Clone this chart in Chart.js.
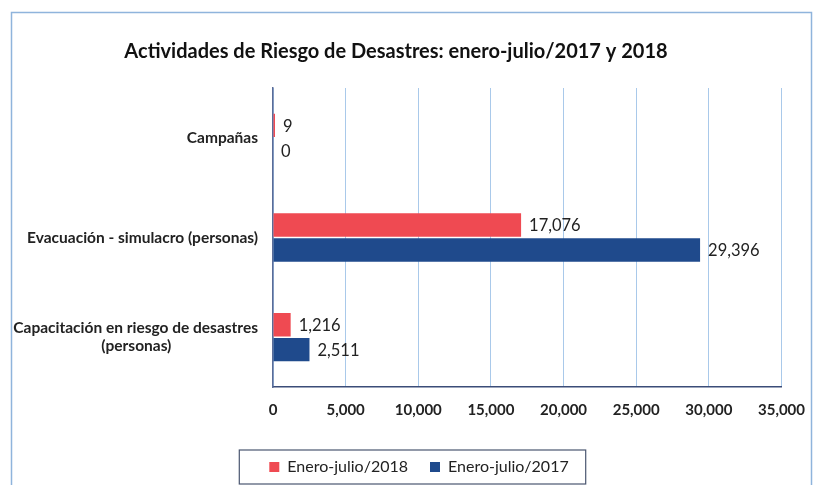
<!DOCTYPE html>
<html>
<head>
<meta charset="utf-8">
<script src="https://cdn.jsdelivr.net/npm/chart.js@4"></script>
<style>
  body { margin: 0; background: #fff; }
  #wrap { width: 819px; height: 485px; }
</style>
</head>
<body>
<div id="wrap"><canvas id="riesgo-canvas" width="819" height="485"></canvas></div>
<script>
var categories = ["Campañas", "Evacuación - simulacro (personas)", "Capacitación en riesgo de desastres|(personas)"];
var values2018 = [9, 17076, 1216];
var values2017 = [0, 29396, 2511];
var xTicks = [0, 5000, 10000, 15000, 20000, 25000, 30000, 35000];

var fontName = "Lato, 'Liberation Sans', sans-serif";
var yFont = "bold 15.5px " + fontName;

// multi-line labels: pad the short line so it sits centred under the long one
var measureCtx = document.createElement("canvas").getContext("2d");
measureCtx.font = yFont;
var yLabels = categories.map(function (c) {
    var parts = c.split("|");
    if (parts.length == 1) return c;
    var w1 = measureCtx.measureText(parts[0]).width;
    var w2 = measureCtx.measureText(parts[1]).width;
    var sp = measureCtx.measureText(" ").width;
    var n = Math.round((w1 - w2) / 2 / sp);
    return [parts[0], parts[1] + " ".repeat(n)];
});

var frameAndLegendBox = {
    id: "frameAndLegendBox",
    beforeDraw: function (chart) {
        var ctx = chart.ctx;
        ctx.save();
        ctx.fillStyle = "#ffffff";
        ctx.fillRect(0, 0, chart.width, chart.height);
        ctx.strokeStyle = "#8fb4dc";
        ctx.lineWidth = 1.5;
        ctx.strokeRect(11.5, 12.5, 800, 500);
        ctx.restore();
    },
    afterLayout: function (chart) {
        chart.legend.left += 23;
        chart.legend.right += 23;
    },
    afterDraw: function (chart) {
        var boxes = chart.legend.legendHitBoxes;
        if (!boxes || !boxes.length) return;
        var first = boxes[0], last = boxes[boxes.length - 1];
        var cy = first.top + first.height / 2;
        var x0 = first.left - 30, x1 = last.left + last.width + 17;
        var ctx = chart.ctx;
        ctx.save();
        ctx.strokeStyle = "#4a5670";
        ctx.lineWidth = 1.2;
        ctx.strokeRect(x0, cy - 17, x1 - x0, 34);
        ctx.restore();
    }
};

var valueLabels = {
    id: "valueLabels",
    afterDatasetsDraw: function (chart) {
        var ctx = chart.ctx;
        ctx.save();
        ctx.font = "16.5px " + fontName;
        ctx.fillStyle = "#222222";
        ctx.textAlign = "left";
        ctx.textBaseline = "middle";
        chart.data.datasets.forEach(function (ds, i) {
            var meta = chart.getDatasetMeta(i);
            meta.data.forEach(function (el, j) {
                ctx.fillText(ds.data[j].toLocaleString("en-US"), el.x + 8, el.y + 1);
            });
        });
        ctx.restore();
    }
};

var riesgoChart = new Chart(document.getElementById("riesgo-canvas"), {
    type: "bar",
    data: {
        labels: yLabels,
        datasets: [{
            label: "Enero-julio/2018",
            data: values2018,
            backgroundColor: "#ef4a52",
            categoryPercentage: 0.5,
            barPercentage: 0.94,
            minBarLength: 2
        }, {
            label: "Enero-julio/2017",
            data: values2017,
            backgroundColor: "#1f4a8c",
            categoryPercentage: 0.5,
            barPercentage: 0.94
        }]
    },
    options: {
        indexAxis: "y",
        responsive: false,
        animation: false,
        layout: { padding: { left: 6, right: 33, top: 0, bottom: 0 } },
        scales: {
            x: {
                min: 0,
                max: 35000,
                afterBuildTicks: function (scale) {
                    scale.ticks = xTicks.map(function (v) { return { value: v }; });
                },
                afterFit: function (scale) { scale.height = 50; },
                grid: { color: "#a9c9ea", drawTicks: false },
                border: { color: "#3b4c78", width: 1.5 },
                ticks: {
                    padding: 14,
                    color: "#222222",
                    font: { family: fontName, size: 15, weight: "bold" },
                    callback: function (v) { return v.toLocaleString("en-US"); }
                }
            },
            y: {
                afterFit: function (scale) { scale.width = 267; },
                grid: { display: false, drawTicks: false },
                border: { color: "#5a6c98", width: 1.5 },
                ticks: {
                    padding: 15,
                    color: "#222222",
                    font: { family: fontName, size: 15.5, weight: "bold" }
                }
            }
        },
        plugins: {
            title: {
                display: true,
                text: "Actividades de Riesgo de Desastres: enero-julio/2017 y 2018",
                color: "#111111",
                font: { family: fontName, size: 20, weight: "bold" },
                padding: { top: 40, bottom: 24 }
            },
            legend: {
                position: "bottom",
                labels: {
                    color: "#222222",
                    boxWidth: 10,
                    boxHeight: 10,
                    padding: 22,
                    font: { family: fontName, size: 16 }
                }
            },
            tooltip: { enabled: false }
        }
    },
    plugins: [frameAndLegendBox, valueLabels]
});
</script>
</body>
</html>
